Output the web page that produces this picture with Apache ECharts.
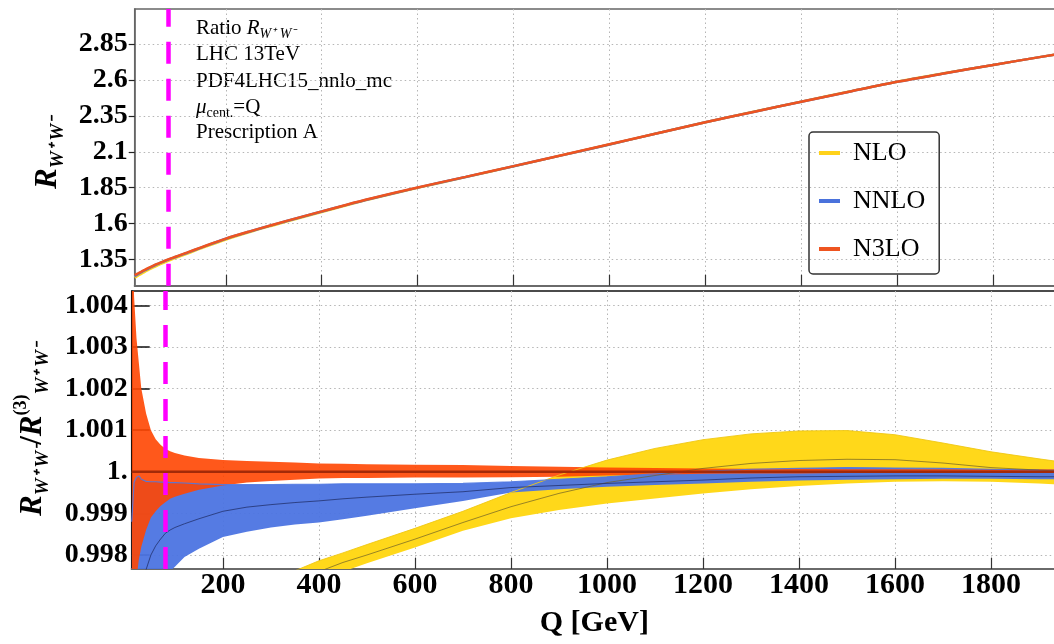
<!DOCTYPE html>
<html>
<head>
<meta charset="utf-8">
<script src="https://cdn.jsdelivr.net/npm/echarts@6/dist/echarts.min.js"></script>
<style>
html, body { margin: 0; padding: 0; background: #fff; overflow: hidden; }
/* the plot runs past the right edge of the window, as in the original */
#chart { width: 1100px; height: 644px; }
</style>
</head>
<body>
<div id="chart"></div>
<script>
// Q grid shared by every curve
var qValues = [10, 15, 20, 25, 30, 40, 50, 60, 70, 80, 90, 100, 120, 150, 200, 250, 300, 350, 400, 450, 500,
  600, 700, 800, 900, 1000, 1100, 1200, 1300, 1400, 1500, 1600, 1700, 1800, 1900, 2000];

// top panel: R_{W+W-}
var rN3LO = [1.239, 1.248, 1.257, 1.266, 1.275, 1.292, 1.308, 1.322, 1.336, 1.350, 1.362, 1.374, 1.398, 1.435, 1.494, 1.545, 1.593, 1.639, 1.684, 1.729, 1.772,
  1.851, 1.925, 2.000, 2.076, 2.152, 2.229, 2.306, 2.378, 2.449, 2.519, 2.588, 2.648, 2.706, 2.762, 2.818];
var rNNLO = [1.232, 1.242, 1.253, 1.262, 1.272, 1.289, 1.305, 1.320, 1.334, 1.348, 1.360, 1.372, 1.396, 1.433, 1.493, 1.544, 1.592, 1.638, 1.683, 1.728, 1.771,
  1.850, 1.924, 1.999, 2.075, 2.151, 2.229, 2.306, 2.378, 2.449, 2.519, 2.588, 2.648, 2.706, 2.762, 2.818];
var rNLO = [1.222, 1.232, 1.242, 1.252, 1.261, 1.280, 1.296, 1.311, 1.326, 1.340, 1.353, 1.365, 1.390, 1.428, 1.488, 1.540, 1.588, 1.635, 1.680, 1.725, 1.768,
  1.848, 1.923, 1.998, 2.075, 2.151, 2.229, 2.306, 2.379, 2.450, 2.520, 2.589, 2.649, 2.706, 2.762, 2.818];

// bottom panel: ratio to N3LO, bands (low / central / high)
var n3loHigh = [1.0062, 1.0042, 1.0032, 1.0026, 1.0020, 1.0014, 1.00100, 1.00078, 1.00065, 1.00055, 1.00049, 1.00045, 1.00039, 1.00033, 1.00028, 1.00026, 1.00024, 1.00022, 1.00020, 1.00019, 1.00018,
  1.00017, 1.00016, 1.00014, 1.00012, 1.00010, 1.00009, 1.00008, 1.00007, 1.00007, 1.00006, 1.00006, 1.00006, 1.00006, 1.00006, 1.00006];
var n3loMid = [1, 1, 1, 1, 1, 1, 1, 1, 1, 1, 1, 1, 1, 1, 1, 1, 1, 1, 1, 1, 1,
  1, 1, 1, 1, 1, 1, 1, 1, 1, 1, 1, 1, 1, 1, 1];
var n3loLow = [0.9955, 0.9968, 0.99745, 0.99790, 0.99820, 0.99860, 0.99890, 0.99905, 0.99918, 0.99927, 0.99935, 0.99940, 0.99947, 0.99957, 0.99967, 0.99974, 0.99978, 0.99981, 0.99984, 0.99985, 0.99985,
  0.99986, 0.99986, 0.99987, 0.99988, 0.99991, 0.99993, 0.99995, 0.99996, 0.99996, 0.99997, 0.99997, 0.99997, 0.99997, 0.99997, 0.99997];

var nnloHigh = [0.9988, 0.99975, 0.99987, 0.99990, 0.99982, 0.99977, 0.99976, 0.99976, 0.99975, 0.99975, 0.99974, 0.99974, 0.99973, 0.99971, 0.99969, 0.99969, 0.99969, 0.99970, 0.99970, 0.99971, 0.99971,
  0.99971, 0.99972, 0.99976, 0.99982, 0.99988, 0.99995, 1.00001, 1.00006, 1.00008, 1.00010, 1.00009, 1.00008, 1.00006, 1.00004, 1.00003];
var nnloMid = [0.9940, 0.9955, 0.9965, 0.9970, 0.99735, 0.99765, 0.99800, 0.99822, 0.99838, 0.99852, 0.99860, 0.99866, 0.99875, 0.99887, 0.99905, 0.99915, 0.99921, 0.99926, 0.99930, 0.99935, 0.99939,
  0.99946, 0.99952, 0.99962, 0.99967, 0.99972, 0.99976, 0.99980, 0.99985, 0.99988, 0.99989, 0.99990, 0.99990, 0.99989, 0.99988, 0.99988];
var nnloLow = [0.9900, 0.9920, 0.9930, 0.9940, 0.9948, 0.9958, 0.9965, 0.9969, 0.99725, 0.99745, 0.99760, 0.99772, 0.99795, 0.99815, 0.99843, 0.99856, 0.99866, 0.99873, 0.99878, 0.99886, 0.99894,
  0.99912, 0.99930, 0.99950, 0.99958, 0.99964, 0.99968, 0.99972, 0.99976, 0.99979, 0.99981, 0.99982, 0.99983, 0.99983, 0.99982, 0.99982];

var nloHigh = [0.9880, 0.9890, 0.9898, 0.9905, 0.9910, 0.9919, 0.9926, 0.9932, 0.9937, 0.9942, 0.9946, 0.9950, 0.9956, 0.9962, 0.99665, 0.99705, 0.99735, 0.99762, 0.99786, 0.99805, 0.99825,
  0.99864, 0.99905, 0.99950, 0.99992, 1.00028, 1.00056, 1.00077, 1.00091, 1.00098, 1.00099, 1.00089, 1.00069, 1.00048, 1.00031, 1.00015];
var nloMid = [0.9860, 0.9871, 0.9880, 0.9887, 0.9893, 0.9903, 0.9911, 0.9918, 0.9924, 0.9929, 0.9933, 0.9937, 0.9943, 0.9951, 0.9960, 0.99665, 0.99705, 0.99735, 0.99760, 0.99782, 0.99800,
  0.99838, 0.99878, 0.99916, 0.99948, 0.99974, 0.99991, 1.00008, 1.00020, 1.00027, 1.00030, 1.00029, 1.00021, 1.00010, 1.00004, 0.99998];
var nloLow = [0.9840, 0.9852, 0.9862, 0.9870, 0.9877, 0.9888, 0.9896, 0.9903, 0.9909, 0.9914, 0.9918, 0.9922, 0.9929, 0.9938, 0.9950, 0.9959, 0.9966, 0.9971, 0.99740, 0.99760, 0.99780,
  0.99818, 0.99858, 0.99888, 0.99908, 0.99924, 0.99936, 0.99948, 0.99958, 0.99966, 0.99972, 0.99976, 0.99977, 0.99976, 0.99972, 0.99966];

// ticks
var qTicks = [200, 400, 600, 800, 1000, 1200, 1400, 1600, 1800];
var topTicks = [1.35, 1.6, 1.85, 2.1, 2.35, 2.6, 2.85];
var topTickLabels = ['1.35', '1.6', '1.85', '2.1', '2.35', '2.6', '2.85'];
var bottomTicks = [0.998, 0.999, 1, 1.001, 1.002, 1.003, 1.004];
var bottomTickLabels = ['0.998', '0.999', '1.', '1.001', '1.002', '1.003', '1.004'];
var mW = 80.4;

var serif = '"Liberation Serif", "Times New Roman", serif';
var gridColor = '#b5b5b5';

function pairs(ys) {
  return qValues.map(function (q, i) { return [q, ys[i]]; });
}
function tickLabel(ticks, labels) {
  return function (v) {
    for (var i = 0; i < ticks.length; i++) {
      if (Math.abs(ticks[i] - v) < 1e-9) return labels[i];
    }
    return '';
  };
}

// filled band between two arrays, drawn as one polygon through the axis scale
function band(name, low, high, color, idx) {
  var rows = qValues.map(function (q, i) { return [q, low[i], high[i]]; });
  return {
    name: name, type: 'custom', xAxisIndex: idx, yAxisIndex: idx, silent: true,
    data: rows,
    renderItem: function (params, api) {
      if (params.dataIndex !== 0) return null;
      var up = rows.map(function (r) { return api.coord([r[0], r[2]]); });
      var dn = rows.map(function (r) { return api.coord([r[0], r[1]]); }).reverse();
      var cs = params.coordSys;
      return {
        type: 'polygon',
        shape: { points: up.concat(dn) },
        style: { fill: color },
        clipPath: { type: 'rect', shape: { x: cs.x, y: cs.y, width: cs.width, height: cs.height } }
      };
    }
  };
}
function line(name, ys, color, width, idx, extra) {
  var s = {
    name: name, type: 'line', xAxisIndex: idx, yAxisIndex: idx, data: pairs(ys),
    symbol: 'none', silent: true, smooth: 0.3,
    lineStyle: { color: color, width: width }, itemStyle: { color: color }
  };
  for (var k in extra) s[k] = extra[k];
  return s;
}
var mwLine = {
  symbol: 'none', silent: true, label: { show: false },
  lineStyle: { color: '#ff00ff', width: 4.5, type: [22, 15] },
  data: [{ xAxis: mW }]
};

function xAxis(idx, showLabels) {
  return {
    type: 'value', gridIndex: idx, min: 10, max: 2000,
    axisLine: { show: true, lineStyle: { color: '#6a6a6a', width: 2 } },
    axisTick: { show: true, inside: true, length: 11, customValues: qTicks, lineStyle: { color: '#333', width: 1.2 } },
    axisLabel: {
      show: showLabels, customValues: qTicks, formatter: function (v) { return String(v); },
      fontFamily: serif, fontWeight: 'bold', fontSize: 30, color: '#000', margin: 1
    },
    splitLine: { show: true, lineStyle: { color: gridColor, type: [1.5, 3], width: 1 } },
    name: showLabels ? 'Q [GeV]' : '', nameLocation: 'middle', nameGap: 39,
    nameTextStyle: { fontFamily: serif, fontWeight: 'bold', fontSize: 30, color: '#000', padding: [0, 30, 0, 0] }
  };
}

var nameRich = {
  r: { fontFamily: serif, fontWeight: 'bold', fontStyle: 'italic', fontSize: 31, lineHeight: 40, color: '#000' },
  s: { fontFamily: serif, fontWeight: 'bold', fontStyle: 'italic', fontSize: 19, lineHeight: 19, verticalAlign: 'bottom', color: '#000' },
  p: { fontFamily: serif, fontWeight: 'bold', fontSize: 18, lineHeight: 18, verticalAlign: 'top', color: '#000' },
  n: { fontFamily: serif, fontWeight: 'bold', fontSize: 31, lineHeight: 40, color: '#000' }
};

var txt = { fontFamily: serif, fontSize: 21, lineHeight: 26, color: '#111' };
var txtI = { fontFamily: serif, fontSize: 21, lineHeight: 26, fontStyle: 'italic', color: '#111' };
var txtS = { fontFamily: serif, fontSize: 14, lineHeight: 14, verticalAlign: 'bottom', color: '#111' };
var txtSI = { fontFamily: serif, fontSize: 14, lineHeight: 14, verticalAlign: 'bottom', fontStyle: 'italic', color: '#111' };
function note(top, text) {
  return { type: 'text', left: 196, top: top, silent: true,
    style: { text: text, rich: { a: txt, i: txtI, s: txtS, si: txtSI } } };
}

var chart = echarts.init(document.getElementById('chart'), null, { renderer: 'canvas' });
chart.setOption({
  animation: false,
  backgroundColor: '#fff',
  grid: [
    { left: 134.7, top: 9, height: 276.7, right: 11, show: true, borderColor: '#666', borderWidth: 1.5 },
    { left: 131.7, top: 291, height: 278, right: 13, show: true, borderColor: '#111', borderWidth: 1.5 }
  ],
  xAxis: [xAxis(0, false), xAxis(1, true)],
  yAxis: [
    {
      type: 'value', gridIndex: 0, min: 1.1658, max: 3.096,
      axisLine: { show: true, lineStyle: { color: '#666', width: 1.5 } },
      axisTick: { show: true, inside: false, length: 6, customValues: topTicks, lineStyle: { color: '#222', width: 1.2 } },
      axisLabel: { customValues: topTicks, formatter: tickLabel(topTicks, topTickLabels),
        fontFamily: serif, fontWeight: 'bold', fontSize: 28, color: '#000', margin: 7 },
      splitLine: { show: true, lineStyle: { color: gridColor, type: [1.5, 3], width: 1 } },
      name: '{r|R}{s|W⁺ W⁻}', nameLocation: 'middle', nameRotate: 90, nameGap: 66,
      nameTextStyle: { rich: nameRich, padding: [0, 12, 0, 0] }
    },
    {
      type: 'value', gridIndex: 1, min: 0.997663, max: 1.004344,
      axisLine: { show: true, lineStyle: { color: '#111', width: 1.5 } },
      axisTick: { show: true, inside: true, length: 18, customValues: bottomTicks, lineStyle: { color: '#111', width: 1.5 } },
      axisLabel: { customValues: bottomTicks, formatter: tickLabel(bottomTicks, bottomTickLabels),
        fontFamily: serif, fontWeight: 'bold', fontSize: 28, color: '#000', margin: 4 },
      splitLine: { show: true, lineStyle: { color: gridColor, type: [1.5, 3], width: 1 } },
      name: '{r|R}{s|W⁺ W⁻}{n|/}{r|R}{p|(3)}{s|W⁺ W⁻}', nameLocation: 'middle', nameRotate: 90, nameGap: 79,
      nameTextStyle: { rich: nameRich }
    }
  ],
  legend: {
    orient: 'vertical', left: 809, top: 132, data: ['NLO', 'NNLO', 'N3LO'],
    icon: 'rect', itemWidth: 21, itemHeight: 4, itemGap: 22,
    padding: [8, 14, 12, 10], borderColor: '#333', borderWidth: 1.5, borderRadius: 4,
    selectedMode: false,
    textStyle: { fontFamily: serif, fontSize: 26, lineHeight: 26, color: '#000', padding: [0, 0, 0, 8] }
  },
  graphic: [
    note(18, '{a|Ratio }{i|R}{si|W⁺ W⁻}'),
    note(44, '{a|LHC 13TeV}'),
    note(71, '{a|PDF4LHC15_nnlo_mc}'),
    note(97, '{i|μ}{s|cent.}{a|=Q}'),
    note(122, '{a|Prescription A}')
  ],
  series: [
    line('NLO', rNLO, '#ffd21a', 2.5, 0),
    line('NNLO', rNNLO, '#4a72dc', 2.5, 0),
    line('N3LO', rN3LO, '#ee5420', 2.5, 0, { markLine: mwLine }),

    band('NLO band', nloLow, nloHigh, 'rgb(255,216,26)', 1),
    band('NNLO band', nnloLow, nnloHigh, 'rgba(76,116,226,0.95)', 1),
    band('N3LO band', n3loLow, n3loHigh, 'rgba(255,70,2,0.9)', 1),
    line('NLO edge', nloHigh, 'rgba(240,200,20,0.9)', 1, 1, { smooth: false }),
    line('NNLO edge', nnloHigh, 'rgba(80,120,225,0.9)', 1.2, 1, { smooth: false }),
    line('NLO central', nloMid, 'rgba(110,95,40,0.7)', 1, 1, { smooth: false }),
    line('NNLO central', nnloMid, 'rgba(35,50,110,0.8)', 1, 1, { smooth: false }),
    line('N3LO central', n3loMid, '#a32a08', 2.5, 1, { smooth: false, markLine: mwLine })
  ]
});
</script>
</body>
</html>
